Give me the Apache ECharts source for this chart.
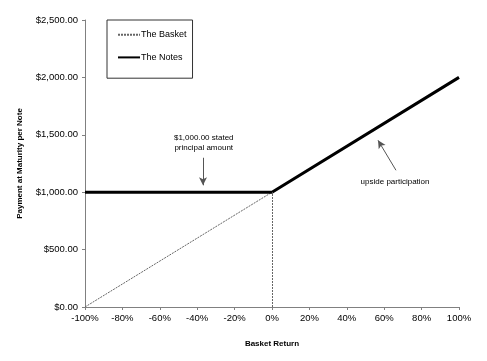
<!DOCTYPE html>
<html><head><meta charset="utf-8">
<script src="https://cdn.jsdelivr.net/npm/echarts@6/dist/echarts.min.js"></script>
<style>html,body{margin:0;padding:0;background:#fff}#c{width:487px;height:361px}</style>
</head><body><div id="c"></div>
<script>
var xTicks = {min: -100, max: 100, interval: 20};
var yTicks = {min: 0, max: 2500, interval: 500};
var basketPoints = [[-100, 0], [0, 1000], [100, 2000]];
var notesPoints = [[-100, 1000], [0, 1000], [100, 2000]];
var strikeLine = [[0, 0], [0, 1000]];
var principalNote = {text: '$1,000.00 stated\nprincipal amount', at: [-36.5, 1430], arrowFrom: [-36.9, 1300], arrowTo: [-36.9, 1060]};
var upsideNote = {text: 'upside participation', at: [65.8, 1087], arrowFrom: [66.3, 1191], arrowTo: [56.7, 1452]};

var font = 'Liberation Sans, Arial, sans-serif';
var chart = echarts.init(document.getElementById('c'));
chart.setOption({
  animation: false,
  textStyle: {fontFamily: font},
  grid: {left: 85, right: 28, top: 20, bottom: 54},
  legend: {
    orient: 'vertical', left: 107, top: 20,
    padding: [10, 6, 16, 10], itemGap: 13, itemWidth: 22, itemHeight: 12,
    borderColor: '#333', borderWidth: 1,
    itemStyle: {opacity: 0},
    textStyle: {fontFamily: font, fontSize: 9, color: '#000', padding: [0, 0, 0, -4]},
    data: ['The Basket', 'The Notes']
  },
  xAxis: {
    type: 'value', min: xTicks.min, max: xTicks.max, interval: xTicks.interval,
    name: 'Basket Return', nameLocation: 'middle', nameGap: 33,
    nameTextStyle: {fontFamily: font, fontSize: 8, fontWeight: 'bold', color: '#000'},
    axisLine: {onZero: false, lineStyle: {color: '#808080', width: 1}},
    axisTick: {show: true, length: 3, lineStyle: {color: '#808080'}},
    axisLabel: {formatter: '{value}%', fontSize: 9.5, color: '#000', margin: 6},
    splitLine: {show: false}
  },
  yAxis: {
    type: 'value', min: yTicks.min, max: yTicks.max, interval: yTicks.interval,
    name: 'Payment at Maturity per Note', nameLocation: 'middle', nameGap: 61,
    nameTextStyle: {fontFamily: font, fontSize: 8, fontWeight: 'bold', color: '#000'},
    axisLine: {show: true, onZero: false, lineStyle: {color: '#808080', width: 1}},
    axisTick: {show: true, length: 3, lineStyle: {color: '#808080'}},
    axisLabel: {formatter: function (v) {
      return '$' + v.toLocaleString('en-US', {minimumFractionDigits: 2, maximumFractionDigits: 2});
    }, fontSize: 9.5, color: '#000', margin: 7},
    splitLine: {show: false}
  },
  series: [
    {
      name: 'The Basket', type: 'line', data: basketPoints, symbol: 'none', z: 2,
      lineStyle: {color: '#666', width: 1, type: [2, 1]},
      itemStyle: {color: '#666'},
      markLine: {
        silent: true, symbol: ['none', 'none'], label: {show: false},
        lineStyle: {color: '#666', width: 1, type: [2, 1]},
        data: [[{coord: strikeLine[0]}, {coord: strikeLine[1]}]]
      }
    },
    {
      name: 'The Notes', type: 'line', data: notesPoints, symbol: 'none', z: 3,
      lineStyle: {color: '#000', width: 3},
      itemStyle: {color: '#000'},
      markLine: {
        silent: true, symbol: ['none', 'arrow'], symbolSize: [6, 8], label: {show: false},
        lineStyle: {color: '#555', width: 1, type: 'solid'},
        data: [
          [{coord: principalNote.arrowFrom}, {coord: principalNote.arrowTo}],
          [{coord: upsideNote.arrowFrom}, {coord: upsideNote.arrowTo}]
        ]
      },
      markPoint: {
        silent: true, symbol: 'circle', symbolSize: 0,
        label: {show: true, position: 'inside', color: '#000', fontFamily: font, fontSize: 8, lineHeight: 10, align: 'center', verticalAlign: 'middle',
          formatter: function (p) { return p.name; }},
        data: [
          {name: principalNote.text, coord: principalNote.at},
          {name: upsideNote.text, coord: upsideNote.at}
        ]
      }
    }
  ]
});
</script></body></html>
